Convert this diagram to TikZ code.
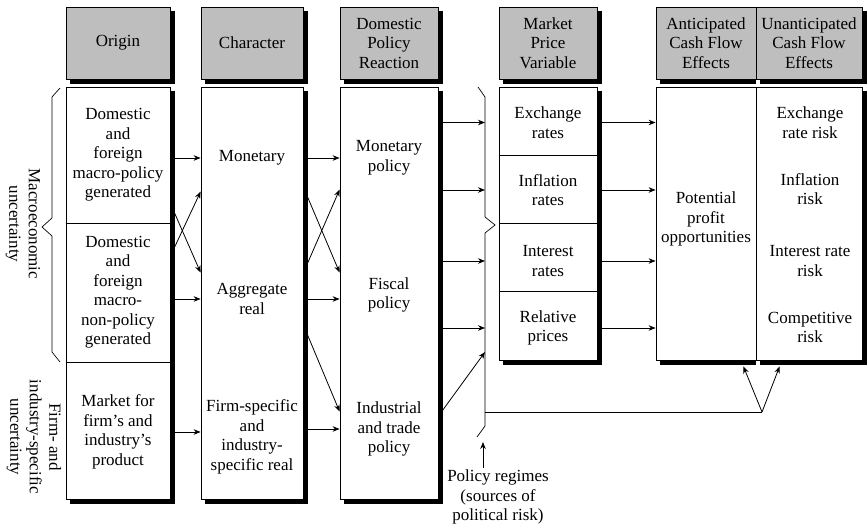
\documentclass[tikz,border=0pt]{standalone}
\usepackage{fontspec}
\setmainfont{Liberation Serif}
\usetikzlibrary{arrows.meta,calc}
\definecolor{hdrgray}{RGB}{190,190,190}
\newcommand\boxshadow[1]{%
  \draw[black, line width=4.2pt, line join=miter, line cap=butt]
    ($(#1.north east)+(2.4,4)$) -- ($(#1.south east)+(2.4,2.4)$) -- ($(#1.south west)+(4,2.4)$);}
\begin{document}
\begin{tikzpicture}[x=1pt,y=-1pt,
  txt/.style={font=\fontsize{17pt}{19.5pt}\selectfont, align=center, inner sep=0pt},
  box/.style={draw, line width=0.8pt, fill=white, inner sep=0pt},
  hdr/.style={box, txt, fill=hdrgray, minimum height=72},
  arr/.style={-{Stealth[length=7pt,width=5.5pt]}, line width=0.8pt},
  ln/.style={line width=0.8pt}]
\useasboundingbox (0,0) rectangle (867,526);

% headers
\node[hdr, minimum width=104] (hO) at (118,43) {Origin};
\node[hdr, minimum width=102] (hC) at (252,43) {Character};
\node[hdr, minimum width=98] (hD) at (389,43) {Domestic\\Policy\\Reaction};
\node[hdr, minimum width=98] (hM) at (548,43) {Market\\Price\\Variable};
\node[hdr, minimum width=100] (hA) at (706,43) {Anticipated\\Cash Flow\\Effects};
\node[hdr, minimum width=106] (hU) at (809,43) {Unanticipated\\Cash Flow\\Effects};

% body boxes
\node[box, minimum width=104, minimum height=412] (oBox) at (118,293) {};
\node[box, minimum width=102, minimum height=412] (cBox) at (252,293) {};
\node[box, minimum width=98, minimum height=412] (dBox) at (389,293) {};
\node[box, minimum width=98, minimum height=273] (mBox) at (548,223.5) {};
\node[box, minimum width=100, minimum height=273] (aBox) at (706,223.5) {};
\node[box, minimum width=106, minimum height=273] (uBox) at (809,223.5) {};

% shadows
\boxshadow{hO}
\boxshadow{hC}
\boxshadow{hD}
\boxshadow{hM}
\boxshadow{hU}
\boxshadow{oBox}
\boxshadow{cBox}
\boxshadow{dBox}
\boxshadow{mBox}
\boxshadow{uBox}
\draw[black, line width=4.2pt, line cap=butt] ($(hA.south west)+(4,2.4)$) -- ($(hU.south west)+(0,2.4)$);
\draw[black, line width=4.2pt, line cap=butt] ($(aBox.south west)+(4,2.4)$) -- ($(uBox.south west)+(0,2.4)$);

% dividers
\draw[ln] ($(oBox.north west)+(0,137)$) -- ($(oBox.north east)+(0,137)$);
\draw[ln] ($(oBox.north west)+(0,276)$) -- ($(oBox.north east)+(0,276)$);
\draw[ln] ($(mBox.north west)+(0,69)$) -- ($(mBox.north east)+(0,69)$);
\draw[ln] ($(mBox.north west)+(0,137)$) -- ($(mBox.north east)+(0,137)$);
\draw[ln] ($(mBox.north west)+(0,205)$) -- ($(mBox.north east)+(0,205)$);

% texts
\node[txt] (o1t) at (118,155) {Domestic\\and\\foreign\\macro-policy\\generated};
\node[txt] (o2t) at (118,292) {Domestic\\and\\foreign\\macro-\\non-policy\\generated};
\node[txt] (o3t) at (118,432) {Market for\\firm’s and\\industry’s\\product};
\node[txt] (cMon) at (252,158) {Monetary};
\node[txt] (cAgg) at (252,299) {Aggregate\\real};
\node[txt] (cFirm) at (252,437) {Firm-specific\\and\\industry-\\specific real};
\node[txt] (dMon) at (389,158) {Monetary\\policy};
\node[txt] (dFis) at (389,295) {Fiscal\\policy};
\node[txt] (dInd) at (389,429) {Industrial\\and trade\\policy};
\node[txt] (m1t) at (548,122.5) {Exchange\\rates};
\node[txt] (m2t) at (548,190) {Inflation\\rates};
\node[txt] (m3t) at (548,261) {Interest\\rates};
\node[txt] (m4t) at (548,328) {Relative\\prices};
\node[txt] (pot) at (706,219) {Potential\\profit\\opportunities};
\node[txt] (u1t) at (810,122.5) {Exchange\\rate risk};
\node[txt] (u2t) at (810,189) {Inflation\\risk};
\node[txt] (u3t) at (810,261) {Interest rate\\risk};
\node[txt] (u4t) at (810,327.5) {Competitive\\risk};

% left side labels and brace
\node[txt, rotate=-90] (macro) at (23,224) {Macroeconomic\\uncertainty};
\node[txt, rotate=-90] (firm) at (34,437) {Firm- and\\industry-specific\\uncertainty};
\draw[line width=0.7pt] (60,88) -- (52,97) -- (52,218) -- (42,227) -- (52,236) -- (52,352) -- (60,362);

% origin -> character
\draw[arr] ([xshift=4pt]oBox.east |- cMon) -- (cBox.west |- cMon);
\draw[arr] ([xshift=4pt]oBox.east |- cAgg) -- (cBox.west |- cAgg);
\draw[arr] ([xshift=4pt]oBox.east |- o3t) -- (cBox.west |- o3t);
\draw[arr] ($(oBox.north east)+(4,126)$) -- ($(cBox.north west)+(0,186)$);
\draw[arr] ($(oBox.north east)+(4,161)$) -- ($(cBox.north west)+(0,105)$);

% character -> domestic
\draw[arr] ([xshift=4pt]cBox.east |- cMon) -- (dBox.west |- cMon);
\draw[arr] ([xshift=4pt]cBox.east |- cAgg) -- (dBox.west |- cAgg);
\draw[arr] ([xshift=4pt]cBox.east |- dInd) -- (dBox.west |- dInd);
\draw[arr] ($(cBox.north east)+(4,110)$) -- ($(dBox.north west)+(0,186)$);
\draw[arr] ($(cBox.north east)+(4,177)$) -- ($(dBox.north west)+(0,103)$);
\draw[arr] ($(cBox.north east)+(4,248)$) -- ($(dBox.north west)+(0,325)$);

% policy-regime brace
\coordinate (brc) at (485,225);
\draw[line width=0.7pt] (478,87) -- (485,97) -- (485,217) -- (495,225) -- (485,233) -- (485,426) -- (477,437);

% domestic -> brace
\draw[arr] ([xshift=4pt]dBox.east |- m1t) -- (brc |- m1t);
\draw[arr] ([xshift=4pt]dBox.east |- m2t) -- (brc |- m2t);
\draw[arr] ([xshift=4pt]dBox.east |- m3t) -- (brc |- m3t);
\draw[arr] ([xshift=4pt]dBox.east |- m4t) -- (brc |- m4t);
\draw[arr] ($(dBox.north east)+(4,324)$) -- ($(brc)+(0,127)$);

% market -> cash flow
\draw[arr] ([xshift=4pt]mBox.east |- m1t) -- (aBox.west |- m1t);
\draw[arr] ([xshift=4pt]mBox.east |- m2t) -- (aBox.west |- m2t);
\draw[arr] ([xshift=4pt]mBox.east |- m3t) -- (aBox.west |- m3t);
\draw[arr] ([xshift=4pt]mBox.east |- m4t) -- (aBox.west |- m4t);

% junction line to cash flows
\coordinate (jn) at (762,412);
\draw[ln] (brc |- jn) -- (jn);
\draw[arr] (jn) -- ($(aBox.south east)+(-13,6)$);
\draw[arr] (jn) -- ($(uBox.south west)+(24,6)$);

% policy regimes
\node[txt] (pr) at (498,497) {Policy regimes\\(sources of\\political risk)};
\draw[arr] ($(pr.north)+(-15,-2)$) -- ($(brc)+(-2,217)$);
\end{tikzpicture}
\end{document}
